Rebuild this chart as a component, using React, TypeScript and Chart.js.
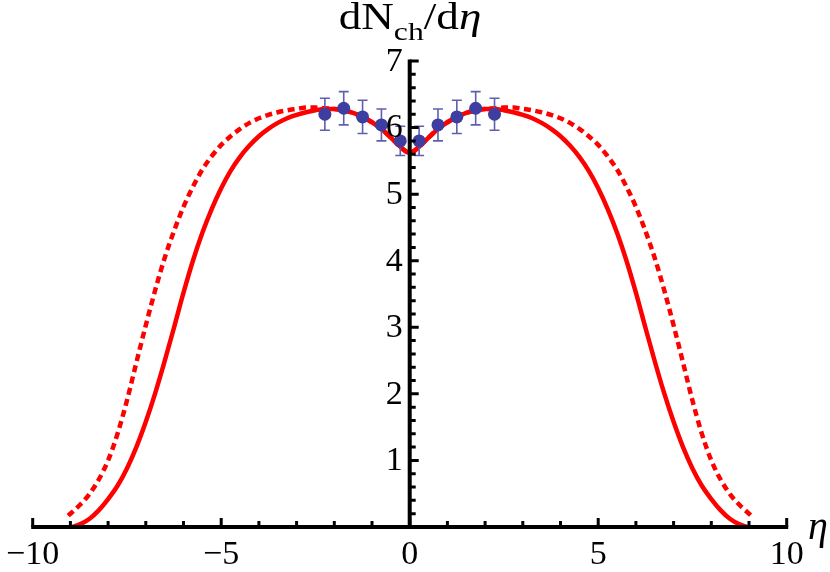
import React, { useEffect, useRef } from 'react';
import { Chart, registerables } from 'chart.js';

Chart.register(...registerables);

// Solid model curve (eta, dN/deta)
const solidEta = [
  -8.95, -8.75, -8.5, -8.25, -8.0, -7.75, -7.5, -7.25, -7.0, -6.75, -6.5, -6.25, -6.0, -5.75, -5.5, -5.25, -5.0,
  -4.75, -4.5, -4.25, -4.0, -3.75, -3.5, -3.25, -3.0, -2.75, -2.5, -2.25, -2.0, -1.75, -1.5, -1.25, -1.0, -0.75,
  -0.5, -0.25, 0,
  0.25, 0.5, 0.75, 1.0, 1.25, 1.5, 1.75, 2.0, 2.25, 2.5, 2.75, 3.0, 3.25, 3.5, 3.75, 4.0, 4.25, 4.5, 4.75, 5.0,
  5.25, 5.5, 5.75, 6.0, 6.25, 6.5, 6.75, 7.0, 7.25, 7.5, 7.75, 8.0, 8.25, 8.5, 8.75, 8.95,
];
const solidVal = [
  0.0, 0.04, 0.12, 0.25, 0.42, 0.62, 0.88, 1.2, 1.58, 2.01, 2.49, 3.0, 3.52, 4.0, 4.42, 4.78, 5.09,
  5.35, 5.56, 5.73, 5.87, 5.98, 6.07, 6.14, 6.19, 6.23, 6.26, 6.28, 6.28, 6.26, 6.22, 6.16, 6.08, 5.98,
  5.85, 5.71, 5.62,
  5.71, 5.85, 5.98, 6.08, 6.16, 6.22, 6.26, 6.28, 6.28, 6.26, 6.23, 6.19, 6.14, 6.07, 5.98, 5.87, 5.73, 5.56, 5.35, 5.09,
  4.78, 4.42, 4.0, 3.52, 3.0, 2.49, 2.01, 1.58, 1.2, 0.88, 0.62, 0.42, 0.25, 0.12, 0.04, 0.0,
];

// Dashed model curve
const dashedEta = [
  -9.06, -8.75, -8.5, -8.25, -8.0, -7.75, -7.5, -7.25, -7.0, -6.75, -6.5, -6.25, -6.0, -5.75, -5.5, -5.25, -5.0,
  -4.75, -4.5, -4.25, -4.0, -3.75, -3.5, -3.25, -3.0, -2.75, -2.5, -2.25, -2.0, -1.75, -1.5, -1.25, -1.0, -0.75,
  -0.5, -0.25, 0,
  0.25, 0.5, 0.75, 1.0, 1.25, 1.5, 1.75, 2.0, 2.25, 2.5, 2.75, 3.0, 3.25, 3.5, 3.75, 4.0, 4.25, 4.5, 4.75, 5.0,
  5.25, 5.5, 5.75, 6.0, 6.25, 6.5, 6.75, 7.0, 7.25, 7.5, 7.75, 8.0, 8.25, 8.5, 8.75, 9.06,
];
const dashedVal = [
  0.17, 0.33, 0.49, 0.71, 1.0, 1.4, 1.9, 2.47, 3.03, 3.56, 4.04, 4.45, 4.81, 5.11, 5.37, 5.57, 5.74,
  5.87, 5.98, 6.07, 6.14, 6.19, 6.23, 6.26, 6.28, 6.3, 6.3, 6.29, 6.28, 6.26, 6.22, 6.16, 6.08, 5.98,
  5.85, 5.71, 5.62,
  5.71, 5.85, 5.98, 6.08, 6.16, 6.22, 6.26, 6.28, 6.29, 6.3, 6.3, 6.28, 6.26, 6.23, 6.19, 6.14, 6.07, 5.98, 5.87, 5.74,
  5.57, 5.37, 5.11, 4.81, 4.45, 4.04, 3.56, 3.03, 2.47, 1.9, 1.4, 1.0, 0.71, 0.49, 0.33, 0.17,
];

// Measured data points with errors
const dataEta = [-2.25, -1.75, -1.25, -0.75, -0.25, 0.25, 0.75, 1.25, 1.75, 2.25];
const dataVal = [6.2, 6.29, 6.16, 6.04, 5.8, 5.8, 6.04, 6.16, 6.29, 6.2];
const dataErr = [0.24, 0.25, 0.25, 0.24, 0.22, 0.22, 0.24, 0.25, 0.25, 0.24];

// Axes
const xMajorTicks = [-10, -5, 0, 5, 10];
const xTickLabels = ['\u221210', '\u22125', '0', '5', '10'];
const xMinorTicks = [-9, -8, -7, -6, -4, -3, -2, -1, 1, 2, 3, 4, 6, 7, 8, 9];
const yMajorTicks = [1, 2, 3, 4, 5, 6, 7];
const yTickLabels = ['1', '2', '3', '4', '5', '6', '7'];
const yMinorStep = 0.2;

const SERIF = '"Liberation Serif", "DejaVu Serif", serif';

const axesPlugin = {
  id: 'mmaAxes',
  beforeDatasetDraw(chart: any, args: any) {
    if (args.index !== 0) return;
    const ctx = chart.ctx;
    const xs = chart.scales.x;
    const ys = chart.scales.y;
    ctx.save();
    ctx.strokeStyle = 'rgb(95,95,175)';
    ctx.lineWidth = 1.6;
    for (let i = 0; i < dataEta.length; i++) {
      const px = xs.getPixelForValue(dataEta[i]);
      const top = ys.getPixelForValue(dataVal[i] + dataErr[i]);
      const bot = ys.getPixelForValue(dataVal[i] - dataErr[i]);
      ctx.beginPath();
      ctx.moveTo(px, top);
      ctx.lineTo(px, bot);
      ctx.moveTo(px - 5, top);
      ctx.lineTo(px + 5, top);
      ctx.moveTo(px - 5, bot);
      ctx.lineTo(px + 5, bot);
      ctx.stroke();
    }
    ctx.restore();
  },
  afterDraw(chart: any) {
    const ctx = chart.ctx;
    const xs = chart.scales.x;
    const ys = chart.scales.y;
    const x0 = xs.getPixelForValue(0);
    const y0 = ys.getPixelForValue(0);
    ctx.save();
    ctx.strokeStyle = '#000';
    ctx.fillStyle = '#000';
    ctx.lineCap = 'butt';
    // axis lines
    ctx.lineWidth = 4;
    ctx.beginPath();
    ctx.moveTo(xs.getPixelForValue(-10) - 1.5, y0);
    ctx.lineTo(xs.getPixelForValue(10) + 1.5, y0);
    ctx.moveTo(x0, y0);
    ctx.lineTo(x0, ys.getPixelForValue(7) - 1.5);
    ctx.stroke();
    // ticks
    ctx.lineWidth = 3;
    ctx.beginPath();
    xMajorTicks.forEach((v) => {
      const px = xs.getPixelForValue(v);
      ctx.moveTo(px, y0);
      ctx.lineTo(px, y0 - 9);
    });
    xMinorTicks.forEach((v) => {
      const px = xs.getPixelForValue(v);
      ctx.moveTo(px, y0);
      ctx.lineTo(px, y0 - 6);
    });
    yMajorTicks.forEach((v) => {
      const py = ys.getPixelForValue(v);
      ctx.moveTo(x0, py);
      ctx.lineTo(x0 + 9, py);
    });
    for (let k = 1; k < 35; k++) {
      if (k % 5 === 0) continue;
      const py = ys.getPixelForValue(k * yMinorStep);
      ctx.moveTo(x0, py);
      ctx.lineTo(x0 + 6, py);
    }
    ctx.stroke();
    // tick labels
    ctx.font = `34px ${SERIF}`;
    ctx.textAlign = 'right';
    ctx.textBaseline = 'middle';
    yMajorTicks.forEach((v, i) => {
      ctx.fillText(yTickLabels[i], x0 - 7, ys.getPixelForValue(v) + 1);
    });
    ctx.textAlign = 'center';
    ctx.textBaseline = 'alphabetic';
    xMajorTicks.forEach((v, i) => {
      ctx.fillText(xTickLabels[i], xs.getPixelForValue(v), y0 + 37);
    });
    // axis label eta
    ctx.textAlign = 'left';
    ctx.font = `italic 40px ${SERIF}`;
    ctx.fillText('\u03b7', 808, y0 + 12);
    // title dN_ch/deta (drawn slightly widened like the reference)
    const sx = 1.22;
    const big = `37px ${SERIF}`;
    const small = `26px ${SERIF}`;
    const ital = `italic 37px ${SERIF}`;
    const parts = [
      { t: 'dN', f: big, dy: 0 },
      { t: 'ch', f: small, dy: 11 },
      { t: '/d', f: big, dy: 0 },
      { t: '\u03b7', f: ital, dy: 0 },
    ];
    let total = 0;
    parts.forEach((p) => {
      ctx.font = p.f;
      total += ctx.measureText(p.t).width;
    });
    ctx.save();
    ctx.translate(410, 0);
    ctx.scale(sx, 1);
    let cx = -total / 2;
    const base = 29;
    parts.forEach((p) => {
      ctx.font = p.f;
      ctx.fillText(p.t, cx, base + p.dy);
      cx += ctx.measureText(p.t).width;
    });
    ctx.restore();
    ctx.restore();
  },
};

export default function App() {
  const ref = useRef<HTMLCanvasElement>(null);
  useEffect(() => {
    document.body.style.margin = '0';
    const canvas = ref.current;
    if (!canvas) return;
    const chart = new Chart(canvas, {
      type: 'line',
      data: {
        datasets: [
          {
            type: 'scatter',
            label: 'data',
            data: dataEta.map((x, i) => ({ x, y: dataVal[i] })),
            pointRadius: 6.5,
            pointBackgroundColor: 'rgb(62,62,160)',
            pointBorderWidth: 0,
            backgroundColor: 'rgb(62,62,160)',
          } as any,
          {
            type: 'line',
            label: 'solid',
            data: solidEta.map((x, i) => ({ x, y: solidVal[i] })),
            borderColor: '#ff0000',
            borderWidth: 4.5,
            pointRadius: 0,
            fill: false,
            cubicInterpolationMode: 'monotone',
          },
          {
            type: 'line',
            label: 'dashed',
            data: dashedEta.map((x, i) => ({ x, y: dashedVal[i] })),
            borderColor: '#ff0000',
            borderWidth: 4.5,
            borderDash: [7, 4.5],
            pointRadius: 0,
            fill: false,
            cubicInterpolationMode: 'monotone',
          },
        ],
      },
      options: {
        animation: false,
        responsive: false,
        events: [],
        layout: { padding: { left: 32.7, right: 43.3, top: 61, bottom: 45 } },
        scales: {
          x: { type: 'linear', min: -10, max: 10, display: false },
          y: { type: 'linear', min: 0, max: 7, display: false },
        },
        plugins: { legend: { display: false }, tooltip: { enabled: false }, title: { display: false } },
      },
      plugins: [axesPlugin],
    });
    return () => chart.destroy();
  }, []);
  return (
    <div style={{ width: 830, height: 572, background: '#fff' }}>
      <canvas ref={ref} width={830} height={572} style={{ display: 'block' }} />
    </div>
  );
}
